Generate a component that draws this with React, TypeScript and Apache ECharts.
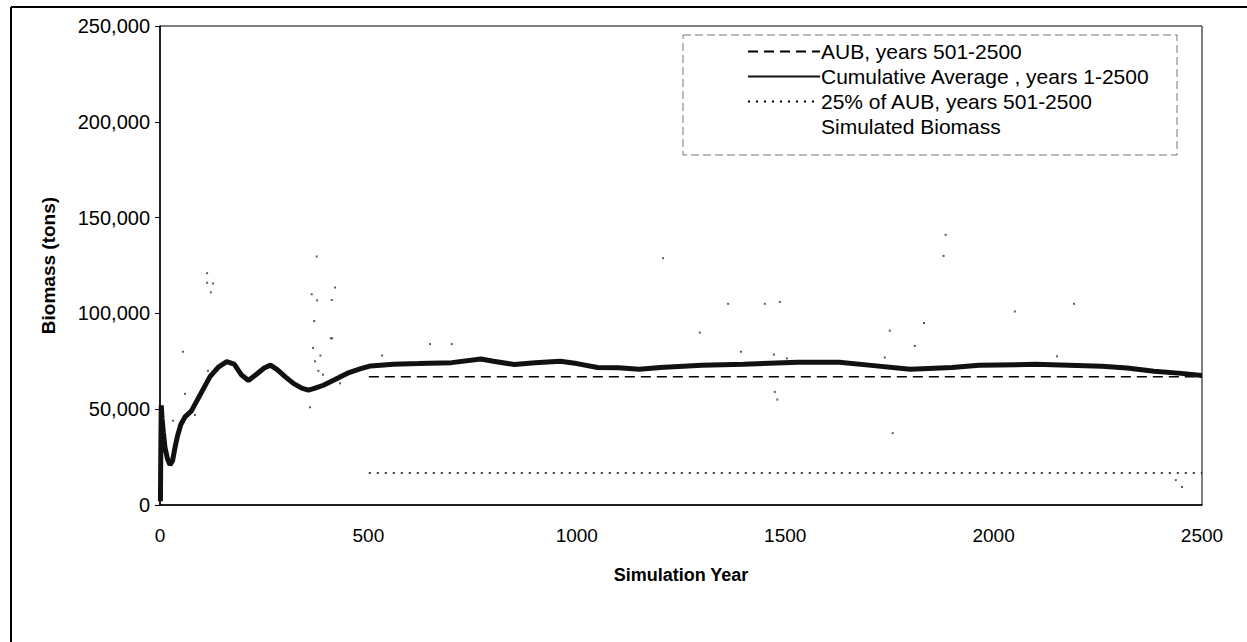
import React, { useEffect, useRef } from "react";
import * as echarts from "echarts";

const xTicks = [0, 500, 1000, 1500, 2000, 2500];
const yTicks = [0, 50000, 100000, 150000, 200000, 250000];

const AUB_VALUE = 67000;
const AUB25_VALUE = 16750;
const aubYears = [501, 2500];

const cumYears = [1, 2, 3, 5, 8, 12, 18, 24, 30, 36, 42, 50, 60, 75, 90, 105, 120, 140, 160, 178, 195, 212, 230, 250, 265, 282, 300, 320, 340, 356, 372, 392, 420, 450, 480, 505, 560, 620, 700, 770, 800, 850, 900, 960, 1000, 1050, 1100, 1150, 1200, 1300, 1400, 1530, 1630, 1700, 1800, 1900, 1965, 2100, 2260, 2320, 2385, 2450, 2500];
const cumValues = [2000, 30000, 52000, 45000, 38000, 30000, 24000, 21000, 23000, 30000, 36000, 42000, 46000, 49000, 55000, 61000, 67000, 72000, 74800, 73500, 68000, 65000, 68000, 71500, 73000, 70500, 67000, 63500, 61000, 60000, 61000, 62500, 65500, 68800, 71000, 72600, 73500, 73800, 74300, 76200, 75000, 73300, 74300, 75000, 73800, 71800, 71600, 70800, 71800, 72900, 73500, 74500, 74500, 73000, 70800, 71800, 72900, 73400, 72400, 71500, 69800, 68700, 67600];

const simYears = [31, 55, 60, 84, 113, 113, 115, 122, 127, 360, 364, 367, 370, 372, 376, 377, 380, 385, 391, 410, 412, 413, 420, 432, 533, 648, 700, 1207, 1295, 1363, 1394, 1451, 1473, 1475, 1481, 1487, 1504, 1739, 1751, 1758, 1811, 1833, 1880, 1885, 2051, 2152, 2193, 2437, 2452];
const simValues = [44000, 80000, 58000, 47000, 116000, 121000, 70000, 111000, 115600, 51000, 110000, 82000, 96000, 75000, 129700, 106800, 70000, 78000, 68000, 87000, 107000, 87000, 113500, 63500, 78000, 84000, 84000, 128800, 90000, 105000, 80000, 105000, 78500, 59000, 55000, 106000, 76500, 77000, 91000, 37500, 83000, 95000, 130000, 141000, 101000, 77600, 105000, 13000, 9400];

const legendNames = [
  "AUB, years 501-2500",
  "Cumulative Average , years 1-2500",
  "25% of AUB, years 501-2500",
  "Simulated Biomass",
];

const FONT = "'Liberation Sans', Arial, Helvetica, sans-serif";

export default function App() {
  const ref = useRef<HTMLDivElement>(null);
  useEffect(() => {
    if (!ref.current) return;
    const chart = echarts.init(ref.current, undefined, { renderer: "svg" });
    const option: any = {
      animation: false,
      backgroundColor: "#ffffff",
      color: ["#000", "#000", "#000", "#333"],
      textStyle: { fontFamily: FONT, color: "#000" },
      grid: {
        left: 160,
        right: 45,
        top: 26,
        bottom: 137,
        show: true,
        borderColor: "#000",
        borderWidth: 1,
        backgroundColor: "transparent",
      },
      legend: {
        orient: "vertical",
        left: 742,
        top: 36,
        itemWidth: 72,
        itemHeight: 12,
        itemGap: 4,
        itemStyle: { opacity: 0 },
        textStyle: { fontFamily: FONT, fontSize: 21, color: "#000", padding: [0, 0, 0, -4] },
        data: legendNames.map((n) => ({ name: n })),
      },
      xAxis: {
        type: "value",
        min: xTicks[0],
        max: xTicks[xTicks.length - 1],
        interval: 500,
        name: "Simulation Year",
        nameLocation: "middle",
        nameGap: 61,
        nameTextStyle: { fontFamily: FONT, fontSize: 18, fontWeight: "bold", color: "#000" },
        axisLine: { lineStyle: { color: "#000", width: 1.5 } },
        axisTick: { show: false },
        axisLabel: { fontFamily: FONT, fontSize: 19, color: "#000", margin: 21, formatter: (v: number) => String(v) },
        splitLine: { show: false },
      },
      yAxis: {
        type: "value",
        min: yTicks[0],
        max: yTicks[yTicks.length - 1],
        interval: 50000,
        name: "Biomass (tons)",
        nameLocation: "middle",
        nameGap: 102,
        nameTextStyle: { fontFamily: FONT, fontSize: 19, fontWeight: "bold", color: "#000" },
        axisLine: { show: true, lineStyle: { color: "#000", width: 1.5 } },
        axisTick: { show: true, length: 5, lineStyle: { color: "#000" } },
        axisLabel: {
          fontFamily: FONT,
          fontSize: 20,
          color: "#000",
          margin: 10,
          formatter: (v: number) => v.toLocaleString("en-US"),
        },
        splitLine: { show: false },
      },
      series: [
        {
          name: legendNames[0],
          type: "line",
          symbol: "none",
          data: aubYears.map((y) => [y, AUB_VALUE]),
          itemStyle: { color: "#000" },
          lineStyle: { color: "#000", width: 1.5, type: [10, 6] },
          z: 3,
        },
        {
          name: legendNames[1],
          type: "line",
          symbol: "none",
          data: cumYears.map((y, i) => [y, cumValues[i]]),
          itemStyle: { color: "#000" },
          lineStyle: { color: "#111", width: 5 },
          z: 4,
        },
        {
          name: legendNames[2],
          type: "line",
          symbol: "none",
          data: aubYears.map((y) => [y, AUB25_VALUE]),
          itemStyle: { color: "#000" },
          lineStyle: { color: "#000", width: 1.5, type: [2, 6] },
          z: 3,
        },
        {
          name: legendNames[3],
          type: "scatter",
          symbol: "rect",
          symbolSize: 2,
          data: simYears.map((y, i) => [y, simValues[i]]),
          itemStyle: { color: "#333" },
          z: 2,
        },
      ],
      graphic: [
        {
          type: "rect",
          shape: { x: 683, y: 35, width: 494, height: 120 },
          style: { fill: "none", stroke: "#777", lineWidth: 1, lineDash: [8, 4] },
          z: 1,
        },
        {
          type: "line",
          shape: { x1: 11, y1: 7, x2: 1247, y2: 7 },
          style: { stroke: "#000", lineWidth: 2 },
        },
        {
          type: "line",
          shape: { x1: 11, y1: 7, x2: 11, y2: 642 },
          style: { stroke: "#000", lineWidth: 2 },
        },
      ],
    };
    chart.setOption(option);
    return () => chart.dispose();
  }, []);
  return (
    <div
      ref={ref}
      style={{ width: 1247, height: 642, position: "absolute", left: 0, top: 0, background: "#fff" }}
    />
  );
}
